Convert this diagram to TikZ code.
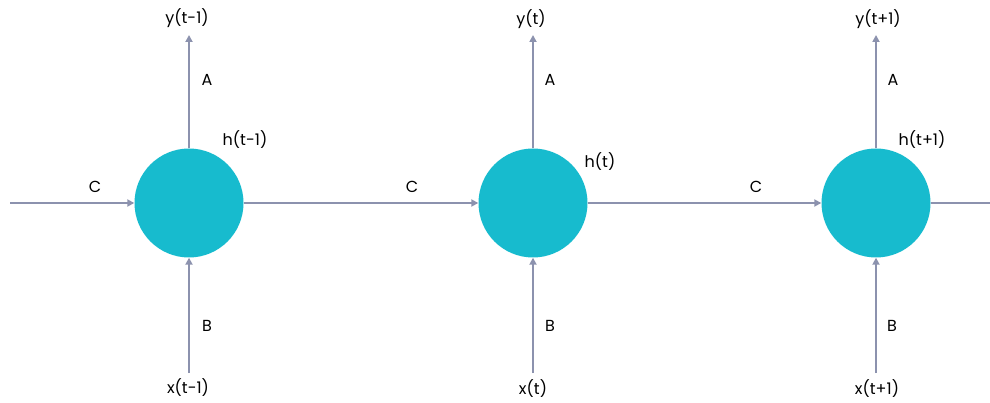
\documentclass[tikz,border=0pt]{standalone}
\usepackage{fontspec}
\setmainfont{Poppins}
\usetikzlibrary{arrows.meta}
\definecolor{cellc}{HTML}{17BBCE}
\definecolor{linec}{HTML}{8C92AE}
\begin{document}
\begin{tikzpicture}[x=1pt,y=-1pt,
  cell/.style={circle,fill=cellc,minimum size=109pt,inner sep=0pt},
  conn/.style={draw=linec,line width=2.2pt,-{Triangle[length=7pt,width=7pt]}},
  plain/.style={draw=linec,line width=2.2pt},
  lbl/.style={font=\fontsize{16}{19}\selectfont,text=black,inner sep=0pt}]
\useasboundingbox (0,0) rectangle (990,403);
\fill[white] (0,0) rectangle (990,403);
% cells
\node[cell] (h1) at (189,203) {};
\node[cell] (h2) at (533,203) {};
\node[cell] (h3) at (876,203) {};
% end coordinates
\coordinate (lin) at (10,203);
\coordinate (rout) at (990,203);
\coordinate (y1) at (189,35);
\coordinate (y2) at (533,35);
\coordinate (y3) at (876,35);
\coordinate (x1) at (189,373);
\coordinate (x2) at (533,373);
\coordinate (x3) at (876,373);
% connectors
\draw[conn] (lin) -- (h1);
\draw[conn] (h1) -- (h2);
\draw[conn] (h2) -- (h3);
\draw[plain] (h3) -- (rout);
\foreach \i in {1,2,3}{
  \draw[conn] (h\i) -- (y\i);
  \draw[conn] (x\i) -- (h\i);
}
% labels
\node[lbl] (ly1) at (187,18) {y(t-1)};
\node[lbl] (ly2) at (531,19) {y(t)};
\node[lbl] (ly3) at (878,19) {y(t+1)};
\node[lbl] (la1) at (207,80) {A};
\node[lbl] (la2) at (550,80) {A};
\node[lbl] (la3) at (893,80) {A};
\node[lbl] (lh1) at (245,140) {h(t-1)};
\node[lbl] (lh2) at (600,162) {h(t)};
\node[lbl] (lh3) at (922,140) {h(t+1)};
\node[lbl] (lc1) at (95,187) {C};
\node[lbl] (lc2) at (412,187) {C};
\node[lbl] (lc3) at (756,187) {C};
\node[lbl] (lb1) at (207,326) {B};
\node[lbl] (lb2) at (550,326) {B};
\node[lbl] (lb3) at (892,326) {B};
\node[lbl] (lx1) at (188,388) {x(t-1)};
\node[lbl] (lx2) at (533,389) {x(t)};
\node[lbl] (lx3) at (877,389) {x(t+1)};
\end{tikzpicture}
\end{document}
